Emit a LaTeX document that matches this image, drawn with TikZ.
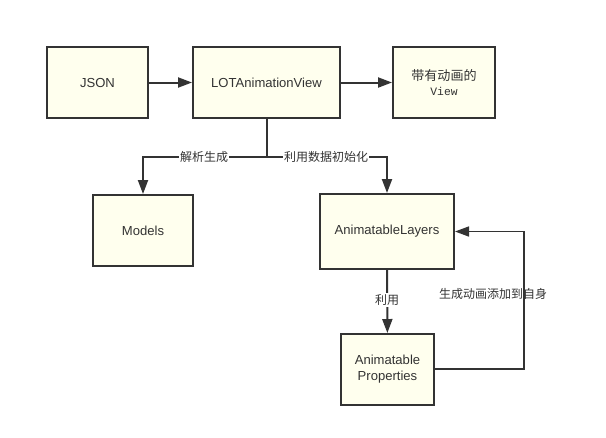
\documentclass[tikz,border=0pt]{standalone}
\usepackage{fontspec}
\setmainfont{Liberation Sans}
\newfontfamily\cjk{Noto Sans CJK SC}
\newfontfamily\monof{Liberation Mono}
\usetikzlibrary{arrows.meta}
\definecolor{boxfill}{HTML}{FFFFEE}
\definecolor{edgec}{HTML}{333333}
\begin{document}
\begin{tikzpicture}[x=0.75pt,y=-0.75pt,
  boxstyle/.style={draw=edgec,fill=boxfill,line width=1.5pt,inner sep=0pt,align=center,text=edgec,font=\fontsize{9.8}{12}\selectfont},
  conn/.style={draw=edgec,line width=1.5pt,-{Triangle[length=10.5pt,width=7.5pt]}},
  lbl/.style={fill=white,inner sep=1pt,font=\cjk\fontsize{9}{11}\selectfont,text=edgec}]
\useasboundingbox (0,0) rectangle (606,437);
\fill[white] (0,0) rectangle (606,437);
\node[boxstyle,minimum width=75.75pt,minimum height=53.25pt] (json) at (97.5,82.5) {JSON};
\node[boxstyle,minimum width=110.25pt,minimum height=53.25pt] (lot) at (266.5,82.5) {LOTAnimationView};
\node[boxstyle,minimum width=76.5pt,minimum height=53.25pt] (view) at (444,82.5) {{\cjk 带有动画的}\\[-1pt]{\monof\fontsize{8.5}{10}\selectfont View}};
\node[boxstyle,minimum width=75pt,minimum height=53.25pt] (models) at (143,230.5) {Models};
\node[boxstyle,minimum width=100.5pt,minimum height=56.25pt] (layers) at (387,231.5) {AnimatableLayers};
\node[boxstyle,minimum width=69.75pt,minimum height=53.25pt] (props) at (387.5,369.5) {Animatable\\Properties};
\coordinate (split) at (266.5,157);
\coordinate (lc) at (143,157);
\coordinate (rc) at (387,157);
\coordinate (fr) at (524,369);
\coordinate (fu) at (524,231.5);
\draw[conn] (json) -- (lot);
\draw[conn] (lot) -- (view);
\draw[draw=edgec,line width=1.5pt] (lot) -- (split);
\draw[conn] (split) -- (lc) -- (models);
\draw[conn] (split) -- (rc) -- (layers);
\draw[conn] (layers) -- (props);
\draw[conn,line width=1.2pt] (props.east |- fr) -- (fr) -- (fu) -- (layers.east);
\node[lbl] (l1) at (204,157) {解析生成};
\node[lbl] (l2) at (326,157) {利用数据初始化};
\node[lbl] (l3) at (387,300) {利用};
\node[lbl,fill=none] (l4) at (493,294) {生成动画添加到自身};
\end{tikzpicture}
\end{document}
